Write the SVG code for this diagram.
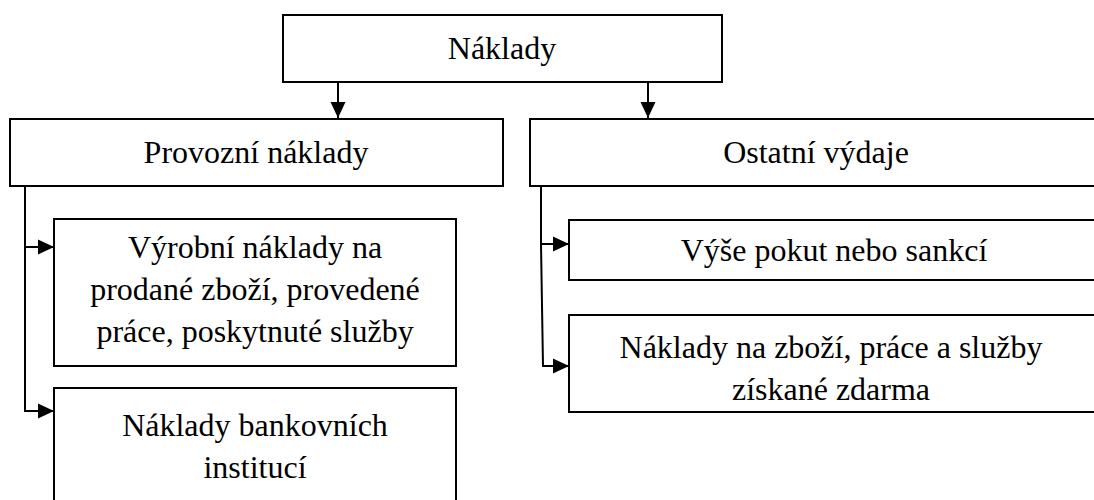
<svg xmlns="http://www.w3.org/2000/svg" width="1094" height="500" viewBox="0 0 1094 500">
<defs>
<marker id="arr" markerUnits="userSpaceOnUse" markerWidth="16" markerHeight="16" viewBox="0 0 15 14" refX="15" refY="7" orient="auto">
<path d="M0,0 L15,7 L0,14 Z" fill="#000"/>
</marker>
<style>
.box{fill:#fff;stroke:#000;stroke-width:2}
.t{font-size:32px;fill:#000;text-anchor:middle}
.c{fill:none;stroke:#000;stroke-width:2}
</style>
</defs>
<rect width="1094" height="500" fill="#fff"/>
<g font-family="'Liberation Serif', 'Times New Roman', 'DejaVu Serif', serif">
<g id="n-naklady">
<rect class="box" x="283" y="15" width="439" height="67"/>
<text class="t" x="502" y="59">Náklady</text>
</g>
<g id="n-provozni">
<rect class="box" x="10" y="119" width="493" height="67"/>
<text class="t" x="256" y="163">Provozní náklady</text>
</g>
<g id="n-ostatni">
<rect class="box" x="530" y="119" width="572" height="67"/>
<text class="t" x="816" y="163">Ostatní výdaje</text>
</g>
<g id="n-vyrobni">
<rect class="box" x="54" y="219" width="402" height="147"/>
<text class="t" x="255" y="258">Výrobní náklady na</text>
<text class="t" x="255" y="300">prodané zboží, provedené</text>
<text class="t" x="255" y="342">práce, poskytnuté služby</text>
</g>
<g id="n-bankovni">
<rect class="box" x="54" y="388" width="402" height="130"/>
<text class="t" x="255" y="436">Náklady bankovních</text>
<text class="t" x="255" y="478">institucí</text>
</g>
<g id="n-vyse">
<rect class="box" x="569" y="220" width="530" height="60"/>
<text class="t" x="834" y="261">Výše pokut nebo sankcí</text>
</g>
<g id="n-zdarma">
<rect class="box" x="569" y="315" width="530" height="97"/>
<text class="t" x="831" y="358">Náklady na zboží, práce a služby</text>
<text class="t" x="831" y="400">získané zdarma</text>
</g>
</g>
<g id="connectors">
<path class="c" d="M338,82 V118" marker-end="url(#arr)"/>
<path class="c" d="M648,82 V118" marker-end="url(#arr)"/>
<path class="c" d="M25,186 V247 H54" marker-end="url(#arr)"/>
<path class="c" d="M25,247 V411 H54" marker-end="url(#arr)"/>
<path class="c" d="M541,186 V244 H569" marker-end="url(#arr)"/>
<path class="c" d="M541,244 L543,366 H569" marker-end="url(#arr)"/>
</g>
</svg>
